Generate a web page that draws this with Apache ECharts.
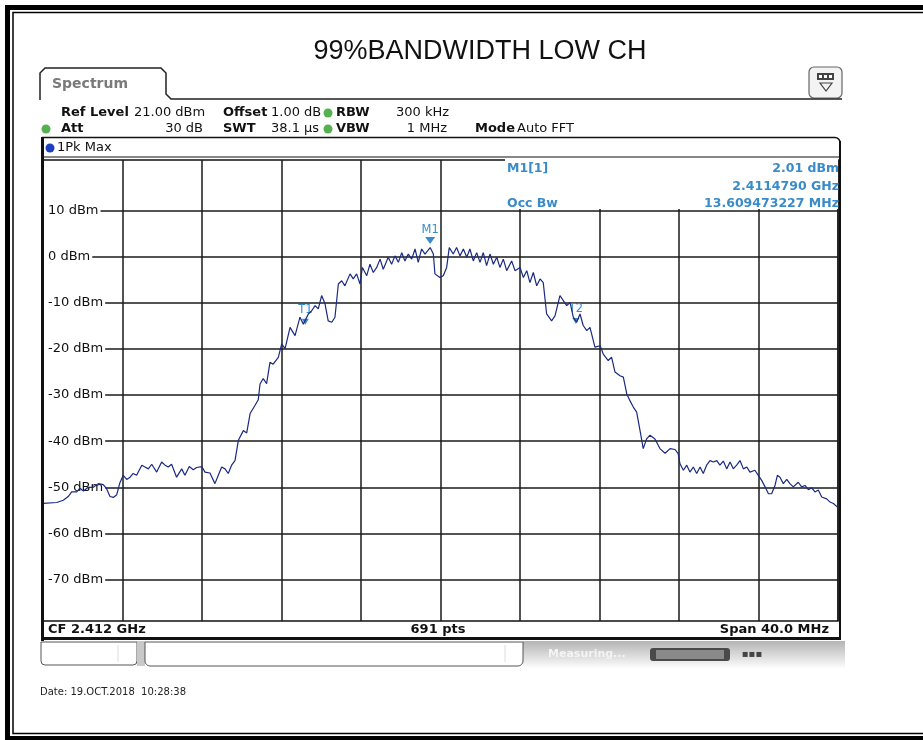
<!DOCTYPE html>
<html>
<head>
<meta charset="utf-8">
<script src="https://cdn.jsdelivr.net/npm/echarts@6/dist/echarts.min.js"></script>
<style>
  html, body { margin: 0; padding: 0; background: #fff; }
  #chart { width: 923px; height: 740px; }
</style>
</head>
<body>
<div id="chart"></div>
<script>
// trace: offset from CF (MHz) and level (dBm)
const freqMHz = [
  -20.00, -19.31, -18.98, -18.73, -18.56, -18.30, -18.14, -17.97, -17.72, -17.47,
  -17.22, -16.97, -16.80, -16.63, -16.46, -16.29, -16.13, -15.96, -15.79, -15.62,
  -15.46, -15.29, -15.03, -14.87, -14.70, -14.53, -14.28, -14.03, -13.86, -13.70,
  -13.53, -13.28, -13.02, -12.86, -12.64, -12.44, -12.27, -12.01, -11.85, -11.60,
  -11.35, -11.18, -11.01, -10.84, -10.68, -10.51, -10.34, -10.17, -9.92, -9.75,
  -9.58, -9.33, -9.17, -9.08, -8.92, -8.75, -8.58, -8.42, -8.16, -7.99,
  -7.82, -7.57, -7.32, -7.07, -6.90, -6.65, -6.48, -6.31, -6.15, -5.98,
  -5.81, -5.65, -5.47, -5.31, -5.14, -4.97, -4.81, -4.55, -4.39, -4.22,
  -4.05, -3.93, -3.71, -3.55, -3.38, -3.21, -3.04, -2.88, -2.63, -2.46,
  -2.29, -2.12, -1.95, -1.79, -1.62, -1.45, -1.28, -1.12, -0.95, -0.78,
  -0.52, -0.36, -0.28, -0.03, 0.14, 0.31, 0.44, 0.64, 0.81, 0.98,
  1.15, 1.32, 1.48, 1.65, 1.82, 1.99, 2.15, 2.32, 2.49, 2.66,
  2.83, 2.99, 3.16, 3.33, 3.58, 3.75, 4.00, 4.17, 4.34, 4.50,
  4.67, 4.84, 5.01, 5.17, 5.34, 5.59, 5.76, 6.01, 6.18, 6.35,
  6.52, 6.68, 6.85, 7.02, 7.18, 7.36, 7.52, 7.77, 8.03, 8.19,
  8.44, 8.61, 8.78, 9.03, 9.20, 9.37, 9.53, 9.70, 9.87, 10.04,
  10.20, 10.37, 10.54, 10.79, 11.04, 11.30, 11.55, 11.80, 11.96, 12.05,
  12.22, 12.39, 12.55, 12.72, 12.89, 13.06, 13.22, 13.39, 13.56, 13.73,
  13.90, 14.06, 14.23, 14.40, 14.57, 14.73, 14.90, 15.07, 15.24, 15.41,
  15.57, 15.82, 15.99, 16.16, 16.33, 16.50, 16.66, 16.83, 16.95, 17.08,
  17.25, 17.42, 17.58, 17.75, 18.00, 18.17, 18.34, 18.51, 18.68, 18.84,
  19.01, 19.18, 19.43, 19.60, 19.77, 20.00
];
const levelDbm = [
  -53.5, -53.3, -52.8, -52.0, -51.0, -51.0, -50.2, -50.8, -50.0, -50.0,
  -49.2, -49.4, -50.3, -52.0, -52.2, -51.6, -49.0, -47.4, -48.3, -47.8,
  -47.0, -47.4, -45.2, -45.6, -46.0, -45.0, -46.7, -44.5, -45.2, -45.6,
  -45.0, -47.8, -46.0, -47.4, -45.5, -46.2, -45.7, -45.5, -46.7, -46.9,
  -49.2, -47.4, -45.6, -46.0, -47.0, -45.2, -44.2, -39.8, -37.7, -38.2,
  -34.0, -32.2, -31.0, -27.6, -26.4, -27.5, -22.9, -23.3, -21.8, -18.9,
  -19.9, -15.3, -17.1, -13.1, -14.6, -12.4, -11.7, -10.6, -11.3, -8.4,
  -10.2, -13.9, -14.2, -13.1, -5.9, -5.2, -6.3, -3.7, -4.8, -3.7,
  -5.9, -2.3, -4.1, -1.6, -3.4, -2.3, -0.5, -2.7, -0.1, -1.6,
  0.2, -1.2, 0.9, -0.9, 0.6, -0.5, 1.7, -1.2, 1.7, 0.6,
  2.01, 0.6, -3.7, -4.5, -4.1, -2.3, 2.0, 0.6, 2.0, 0.2,
  1.7, -0.1, 1.7, -0.9, 0.9, -1.2, 0.9, -1.9, 0.6, -1.6,
  -0.1, -2.3, -0.5, -3.0, -0.9, -3.0, -2.3, -4.5, -3.0, -5.6,
  -3.4, -6.3, -4.8, -5.6, -12.4, -13.9, -12.8, -8.4, -9.5, -10.6,
  -9.9, -13.1, -14.2, -12.4, -14.9, -16.0, -15.3, -19.6, -19.3, -21.1,
  -22.5, -21.8, -25.0, -25.8, -26.1, -29.7, -31.2, -32.6, -33.7, -37.7,
  -41.6, -39.5, -38.7, -39.5, -41.6, -42.6, -41.6, -41.8, -42.7, -44.9,
  -46.3, -45.2, -46.7, -45.6, -47.0, -45.6, -47.0, -45.2, -44.2, -44.5,
  -44.2, -45.2, -44.3, -46.0, -44.5, -46.0, -45.2, -44.2, -46.0, -45.6,
  -46.7, -46.3, -47.4, -48.5, -49.9, -51.4, -51.4, -49.6, -47.4, -47.8,
  -49.2, -48.3, -49.2, -49.9, -48.9, -49.9, -49.6, -50.5, -50.1, -51.0,
  -50.6, -52.1, -52.5, -53.2, -53.5, -54.4
];
const yTicks = [10, 0, -10, -20, -30, -40, -50, -60, -70];
const markerNames = ['M1', 'T1', 'T2'];
const markerFreqs = [-0.52, -6.8, 6.81];
const markerLevels = [2.01, -14.1, -13.9];

const BLUE = '#3a8cc8';
const SANS = '"DejaVu Sans", Verdana, sans-serif';

function txt(x, y, text, opt) {
  opt = opt || {};
  return {
    type: 'text', z: 60,
    style: {
      x: x, y: y, text: text,
      font: (opt.bold ? 'bold ' : '') + (opt.size || 13) + 'px ' + (opt.family || SANS),
      fill: opt.color || '#111',
      align: opt.align || 'left', textAlign: opt.align || 'left',
      verticalAlign: 'middle', textVerticalAlign: 'middle'
    }
  };
}
function ln(x1, y1, x2, y2, w, c) {
  return { type: 'line', z: 70, shape: {x1: x1, y1: y1, x2: x2, y2: y2},
           style: {stroke: c || '#111', lineWidth: w || 1} };
}
function dot(x, y, c) {
  return { type: 'circle', z: 60, shape: {cx: x, cy: y, r: 4.5}, style: {fill: c} };
}

const chart = echarts.init(document.getElementById('chart'));

const graphics = [
  // outer double frame
  {type: 'rect', z: 90, shape: {x: 7.5, y: 7.5, width: 930, height: 731}, style: {fill: 'none', stroke: '#000', lineWidth: 5}},
  {type: 'rect', z: 90, shape: {x: 13, y: 12.5, width: 920, height: 721}, style: {fill: 'none', stroke: '#000', lineWidth: 1.5}},
  txt(480, 52, '99%BANDWIDTH LOW CH', {size: 27, align: 'center', family: '"Liberation Sans", Arial, sans-serif'}),
  // tab
  {type: 'polyline', z: 70, shape: {points: [[40, 100], [40, 73], [45, 68], [161, 68], [166, 73], [166, 94], [171, 99], [842, 99]]},
   style: {stroke: '#222', lineWidth: 1.5, fill: 'none'}},
  txt(52, 84, 'Spectrum', {bold: true, size: 14, color: '#7a7a7a'}),
  // icon top right
  {type: 'rect', z: 60, shape: {x: 809, y: 67, width: 33, height: 31, r: 5}, style: {fill: '#f3f3f3', stroke: '#666', lineWidth: 1.2}},
  {type: 'rect', z: 61, shape: {x: 817, y: 73, width: 17, height: 7}, style: {fill: '#444'}},
  {type: 'rect', z: 62, shape: {x: 819, y: 75, width: 3, height: 3}, style: {fill: '#fff'}},
  {type: 'rect', z: 62, shape: {x: 824, y: 75, width: 3, height: 3}, style: {fill: '#fff'}},
  {type: 'rect', z: 62, shape: {x: 829, y: 75, width: 3, height: 3}, style: {fill: '#fff'}},
  {type: 'polygon', z: 61, shape: {points: [[820, 83], [832, 83], [826, 91]]}, style: {fill: 'none', stroke: '#444', lineWidth: 1.2}},
  // header rows
  txt(61, 113, 'Ref Level', {bold: true}),
  txt(134, 113, '21.00 dBm'),
  txt(223, 113, 'Offset', {bold: true}),
  txt(271, 113, '1.00 dB'),
  dot(328, 113, '#55b04f'),
  txt(336, 113, 'RBW', {bold: true}),
  txt(396, 113, '300 kHz'),
  dot(46, 129, '#55b04f'),
  txt(61, 129, 'Att', {bold: true}),
  txt(203, 129, '30 dB', {align: 'right'}),
  txt(223, 129, 'SWT', {bold: true}),
  txt(271, 129, '38.1 µs'),
  dot(328, 129, '#55b04f'),
  txt(336, 129, 'VBW', {bold: true}),
  txt(447, 129, '1 MHz', {align: 'right'}),
  txt(475, 129, 'Mode', {bold: true}),
  txt(517, 129, 'Auto FFT'),
  // trace box
  {type: 'rect', z: 70, shape: {x: 42, y: 137.5, width: 798, height: 501, r: [0, 5, 0, 0]}, style: {fill: 'none', stroke: '#111', lineWidth: 1.5}},
  ln(42.5, 137, 42.5, 641, 3),
  ln(41, 638.5, 841, 638.5, 3),
  ln(840, 141, 840, 638, 2),
  ln(43, 157, 840, 157, 1.2),
  dot(50, 148, '#1e3fbf'),
  txt(57, 148, '1Pk Max'),
  // marker readout
  {type: 'rect', z: 50, shape: {x: 505, y: 158, width: 333, height: 51}, style: {fill: '#fff'}},
  txt(507, 169, 'M1[1]', {bold: true, size: 12.5, color: BLUE}),
  txt(839, 169, '2.01 dBm', {bold: true, size: 12.5, color: BLUE, align: 'right'}),
  txt(839, 187, '2.4114790 GHz', {bold: true, size: 12.5, color: BLUE, align: 'right'}),
  txt(507, 204, 'Occ Bw', {bold: true, size: 12.5, color: BLUE}),
  txt(839, 204, '13.609473227 MHz', {bold: true, size: 12.5, color: BLUE, align: 'right'}),
  // footer row
  txt(48, 630, 'CF 2.412 GHz', {bold: true}),
  txt(438, 630, '691 pts', {bold: true, align: 'center'}),
  txt(829, 630, 'Span 40.0 MHz', {bold: true, align: 'right'}),
  // status bar
  {type: 'rect', z: 60, shape: {x: 523, y: 641, width: 322, height: 28},
   style: {fill: new echarts.graphic.LinearGradient(0, 0, 0, 1, [{offset: 0, color: '#b4b4b4'}, {offset: 1, color: '#ffffff'}])}},
  {type: 'rect', z: 61, shape: {x: 41, y: 642, width: 96, height: 23, r: [0, 0, 4, 4]}, style: {fill: '#fff', stroke: '#555', lineWidth: 1}},
  ln(118, 645, 118, 662, 1, '#ddd'),
  {type: 'rect', z: 61, shape: {x: 137, y: 641, width: 8, height: 25}, style: {fill: '#c8c8c8'}},
  {type: 'rect', z: 62, shape: {x: 145, y: 642, width: 378, height: 24, r: [0, 0, 5, 5]}, style: {fill: '#fff', stroke: '#555', lineWidth: 1}},
  ln(505, 645, 505, 662, 1, '#ddd'),
  txt(548, 654, 'Measuring...', {bold: true, size: 11, color: '#f4f4f4'}),
  {type: 'rect', z: 62, shape: {x: 650, y: 648, width: 80, height: 13, r: 3}, style: {fill: '#4a4a4a'}},
  {type: 'rect', z: 63, shape: {x: 656, y: 650, width: 68, height: 9}, style: {fill: '#8a8a8a'}},
  txt(752, 654, '▪▪▪', {size: 10, color: '#444', align: 'center'}),
  txt(40, 692, 'Date: 19.OCT.2018  10:28:38', {size: 10, color: '#222'})
];

const option = {
  animation: false,
  grid: {left: 43, right: 85, top: 160, bottom: 119, show: true, borderColor: '#111', borderWidth: 1.5, backgroundColor: '#fff'},
  xAxis: {
    type: 'value', min: -20, max: 20, interval: 4,
    axisLine: {show: false}, axisTick: {show: false}, axisLabel: {show: false},
    splitLine: {show: true, lineStyle: {color: '#1a1a1a', width: 1.5}}
  },
  yAxis: {
    type: 'value', min: -79, max: 21, z: 0,
    axisLine: {show: false},
    axisTick: {show: false, customValues: yTicks},
    axisLabel: {
      inside: true, customValues: yTicks, margin: 0,
      formatter: function (v) { return v + ' dBm'; },
      color: '#111', fontSize: 13, fontFamily: SANS,
      backgroundColor: '#fff', padding: [1, 2, 1, 5]
    },
    splitLine: {show: true, lineStyle: {color: '#1a1a1a', width: 1.5}}
  },
  series: [{
    type: 'line', z: 5,
    data: freqMHz.map(function (f, i) { return [f, levelDbm[i]]; }),
    showSymbol: false,
    lineStyle: {color: '#1b2a80', width: 1.2},
    markPoint: {
      symbol: 'triangle', symbolRotate: 180,
      label: {show: true, position: 'top', distance: 1, color: BLUE, fontSize: 11.5, fontFamily: SANS,
               formatter: function (p) { return p.name; }},
      itemStyle: {color: BLUE},
      data: markerNames.map(function (n, i) {
        const main = i === 0;
        return {
          name: n, coord: [markerFreqs[i], markerLevels[i]],
          symbolSize: main ? [10, 7] : [7, 6],
          symbolOffset: main ? [0, -7] : [0, 0],
          label: {distance: main ? 1 : 3}
        };
      })
    }
  }],
  graphic: {elements: graphics}
};
chart.setOption(option);
</script>
</body>
</html>
